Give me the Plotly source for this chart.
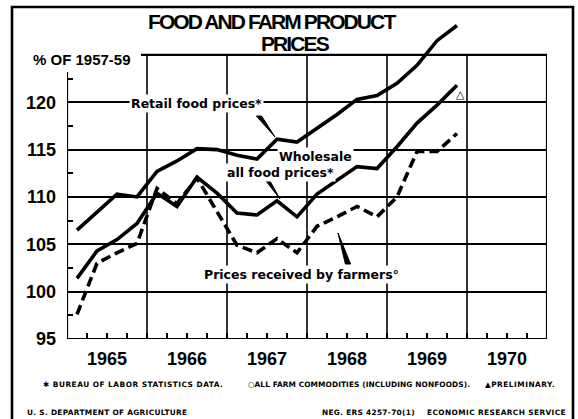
import plotly.graph_objects as go

# ---------------- data ----------------
quarters = ["1965 Q1", "1965 Q2", "1965 Q3", "1965 Q4",
            "1966 Q1", "1966 Q2", "1966 Q3", "1966 Q4",
            "1967 Q1", "1967 Q2", "1967 Q3", "1967 Q4",
            "1968 Q1", "1968 Q2", "1968 Q3", "1968 Q4",
            "1969 Q1", "1969 Q2", "1969 Q3", "1969 Q4"]
retail_food = [106.5, 108.4, 110.3, 110.0, 112.7, 113.8, 115.1, 115.0,
               114.4, 114.0, 116.1, 115.8, 117.2, 118.7, 120.3, 120.7,
               122.0, 123.9, 126.5, 128.1]
wholesale_food = [101.4, 104.3, 105.5, 107.2, 110.4, 109.0, 112.1, 110.4,
                  108.3, 108.1, 109.6, 107.9, 110.3, 111.8, 113.2, 113.0,
                  115.3, 117.8, 119.7, 121.8]
farm_received = [97.6, 103.0, 104.1, 105.1, 110.9, 109.3, 112.0, 108.4,
                 104.9, 104.1, 105.6, 104.1, 106.9, 107.9, 109.0, 107.9,
                 110.0, 114.8, 114.8, 116.7]
year_labels = ["1965", "1966", "1967", "1968", "1969", "1970"]
y_tick_values = [95, 100, 105, 110, 115, 120]

# ---------------- geometry ----------------
W, H = 578, 419
L, R, T, B = 67, 31, 17, 80
PW, PH = W - L - R, H - T - B
X0, X1 = 1965, 1971
Y0, Y1 = 95, 129
YTOP = 125


def qpos(label):
    yr, q = label.split(" Q")
    return int(yr) + (int(q) - 0.5) / 4


xq = [qpos(q) for q in quarters]
years = [int(y) for y in year_labels]


def pxx(p):  # pixel x -> paper
    return (p - L) / PW


def pxy(p):  # pixel y -> paper
    return (H - B - p) / PH


def to_data(px, py):
    return X0 + (px - L) / PW * (X1 - X0), Y0 + (H - B - py) / PH * (Y1 - Y0)


def wedge(base, tip, hw):
    bx, by = base
    (x1, y1) = to_data(bx - hw, by)
    (x2, y2) = to_data(bx + hw, by)
    (x3, y3) = to_data(*tip)
    return dict(type="path", xref="x", yref="y",
                path=f"M {x1},{y1} L {x2},{y2} L {x3},{y3} Z",
                fillcolor="black", line=dict(color="black", width=1), layer="above")


LINE_W = 3.6
fig = go.Figure()
fig.add_trace(go.Scatter(x=xq, y=retail_food, mode="lines",
                         line=dict(color="black", width=LINE_W), name="Retail food prices"))
fig.add_trace(go.Scatter(x=xq, y=wholesale_food, mode="lines",
                         line=dict(color="black", width=LINE_W), name="Wholesale all food prices"))
fig.add_trace(go.Scatter(x=xq, y=farm_received, mode="lines",
                         line=dict(color="black", width=LINE_W, dash="10px,5px"),
                         name="Prices received by farmers"))

tickfont = dict(family="Liberation Sans, Arial, sans-serif", size=18, color="black", weight="bold")

shapes = []
# vertical year gridlines
for yr in years[1:]:
    shapes.append(dict(type="line", xref="x", yref="y", x0=yr, x1=yr, y0=Y0, y1=YTOP,
                       line=dict(color="black", width=1.6), layer="below"))
# plot frame
shapes.append(dict(type="rect", xref="x", yref="y", x0=X0, x1=X1, y0=Y0, y1=YTOP,
                   line=dict(color="black", width=2.2), layer="above"))
# white cover behind the unit label
shapes.append(dict(type="rect", xref="paper", yref="paper",
                   x0=pxx(16), x1=pxx(141), y0=pxy(72), y1=pxy(12),
                   fillcolor="white", line=dict(width=0), layer="above"))
# outer border
shapes.append(dict(type="rect", xref="paper", yref="paper",
                   x0=pxx(12), x1=pxx(573), y0=pxy(440), y1=pxy(7),
                   line=dict(color="black", width=2.6), layer="above"))
# label pointers
shapes.append(wedge((259, 116), (275, 137), 2.6))
shapes.append(wedge((268, 181), (280, 199), 2.0))
shapes.append(wedge((348, 264), (338, 233), 2.6))

lab_font = dict(family="DejaVu Sans, sans-serif", size=12.5, color="black", weight="bold")
foot_font = dict(family="DejaVu Sans, sans-serif", size=7.4, color="black", weight="bold")
title_font = dict(family="Liberation Sans, Arial, sans-serif",
                  size=21, color="black", weight="bold")

annotations = []


def pann(text, x, y, font, xanchor="center", **kw):
    annotations.append(dict(text=text, xref="paper", yref="paper", x=pxx(x), y=pxy(y),
                            xanchor=xanchor, yanchor="middle", showarrow=False, font=font, **kw))


def dann(text, x, y, font, **kw):
    dx, dy = to_data(x, y)
    annotations.append(dict(text=text, xref="x", yref="y", x=dx, y=dy, xanchor="center",
                            yanchor="middle", showarrow=False, font=font, **kw))


def spaced(text, px):
    return f'<span style="letter-spacing:{px}px">{text}</span>'


pann(spaced("FOOD AND FARM PRODUCT", -1.9), 272, 21, title_font)
pann(spaced("PRICES", -1.9), 295, 43, title_font)
pann("% OF 1957-59", 82, 60, dict(family="Liberation Sans, Arial, sans-serif", size=15,
                                   color="black", weight="bold"))

dann("Retail food prices*", 196, 103, lab_font, bgcolor="white", borderpad=1)
dann("Wholesale", 315, 156, lab_font, bgcolor="white", borderpad=1)
dann("all food prices*", 280, 172, lab_font, bgcolor="white", borderpad=1)
dann("Prices received by farmers°", 301, 274, lab_font, bgcolor="white", borderpad=1)

# preliminary marker next to last wholesale point
annotations.append(dict(text="△", x=xq[-1], y=wholesale_food[-1], xref="x", yref="y",
                        xshift=3, yshift=-9, showarrow=False,
                        font=dict(family="DejaVu Sans", size=11, color="black", weight="bold")))

pann(spaced("✱ BUREAU OF LABOR STATISTICS DATA.", 0.5), 41, 384, foot_font, xanchor="left")
pann(spaced("○ALL FARM COMMODITIES (INCLUDING NONFOODS).", 0.1), 246, 384, foot_font, xanchor="left")
pann(spaced("▲PRELIMINARY.", 0.5), 483, 384, foot_font, xanchor="left")
pann(spaced("U. S. DEPARTMENT OF AGRICULTURE", 0.3), 25, 412, foot_font, xanchor="left")
pann(spaced("NEG. ERS 4257-70(1)", 0.3), 320, 412, foot_font, xanchor="left")
pann(spaced("ECONOMIC RESEARCH SERVICE", 0.4), 425, 412, foot_font, xanchor="left")

quarter_bounds = [X0 + i * 0.25 for i in range(int((X1 - X0) * 4) + 1)]
half_steps = [v + 2.5 for v in y_tick_values]

fig.update_layout(
    width=W, height=H,
    margin=dict(l=L, r=R, t=T, b=B, pad=0),
    paper_bgcolor="white", plot_bgcolor="white",
    showlegend=False,
    xaxis=dict(range=[X0, X1], tickmode="array",
               tickvals=[y + 0.5 for y in years], ticktext=year_labels,
               ticks="inside", ticklen=6, tickwidth=1.6, tickcolor="black",
               minor=dict(tickmode="array", tickvals=quarter_bounds, ticks="inside",
                          ticklen=6, tickwidth=1.6, tickcolor="black", showgrid=False),
               showgrid=False, zeroline=False, showline=False,
               tickfont=tickfont, ticklabelstandoff=7),
    yaxis=dict(range=[Y0, Y1], tickmode="array", tickvals=y_tick_values,
               ticks="", showgrid=True, gridcolor="black", gridwidth=1.6,
               minor=dict(tickmode="array", tickvals=half_steps, ticks="inside",
                          ticklen=6, tickwidth=1.6, tickcolor="black", showgrid=False),
               mirror="ticks", zeroline=False, showline=False,
               tickfont=tickfont, ticklabelstandoff=10),
    shapes=shapes,
    annotations=annotations,
)

fig.write_html("out.html", config={"displayModeBar": False},
               post_script="document.body.style.margin='0px';document.body.style.overflow='hidden';")
